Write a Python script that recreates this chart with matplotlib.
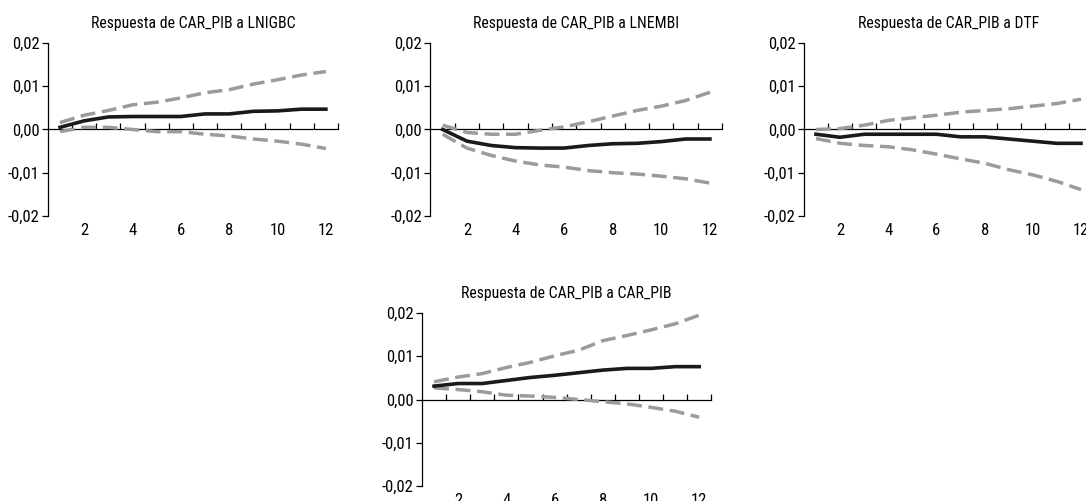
import matplotlib

matplotlib.use("Agg")
import matplotlib.pyplot as plt
import numpy as np
from matplotlib import font_manager
from matplotlib.ticker import FuncFormatter, FixedLocator

# fuente condensada si existe; si no, Liberation Sans
_installed = {f.name for f in font_manager.fontManager.ttflist}
_narrow = [n for n in ("Liberation Sans Narrow", "Roboto Condensed",
                       "Open Sans Condensed", "Liberation Sans") if n in _installed]
FONT = _narrow[0] if _narrow else "DejaVu Sans"
CONDENSED = FONT != "Liberation Sans"
plt.rcParams["font.family"] = [FONT, "DejaVu Sans"]

periods = np.arange(1, 13)

# respuestas al impulso (valor central y bandas)
titles = [
    "Respuesta de CAR_PIB a LNIGBC",
    "Respuesta de CAR_PIB a LNEMBI",
    "Respuesta de CAR_PIB a DTF",
    "Respuesta de CAR_PIB a CAR_PIB",
]
resp_lnigbc = [0.0005, 0.0020, 0.0029, 0.0030, 0.0030, 0.0030,
               0.0036, 0.0036, 0.0042, 0.0043, 0.0047, 0.0047]
upper_lnigbc = [0.0016, 0.0033, 0.0044, 0.0057, 0.0063, 0.0073,
                0.0085, 0.0092, 0.0105, 0.0115, 0.0126, 0.0134]
lower_lnigbc = [-0.0005, 0.0005, 0.0005, 0.0000, -0.0005, -0.0005,
                -0.0011, -0.0015, -0.0022, -0.0027, -0.0034, -0.0044]

resp_lnembi = [0.0000, -0.0027, -0.0037, -0.0042, -0.0043, -0.0043,
               -0.0037, -0.0033, -0.0032, -0.0028, -0.0022, -0.0022]
upper_lnembi = [0.0010, -0.0007, -0.0011, -0.0011, -0.0002, 0.0006,
                0.0018, 0.0031, 0.0044, 0.0054, 0.0067, 0.0086]
lower_lnembi = [-0.0011, -0.0043, -0.0060, -0.0073, -0.0082, -0.0087,
                -0.0095, -0.0100, -0.0103, -0.0108, -0.0114, -0.0124]

resp_dtf = [-0.0011, -0.0018, -0.0011, -0.0011, -0.0011, -0.0011,
            -0.0017, -0.0017, -0.0022, -0.0027, -0.0032, -0.0032]
upper_dtf = [0.0000, 0.0002, 0.0010, 0.0021, 0.0027, 0.0033,
             0.0040, 0.0044, 0.0048, 0.0054, 0.0060, 0.0070]
lower_dtf = [-0.0021, -0.0032, -0.0037, -0.0040, -0.0047, -0.0057,
             -0.0068, -0.0078, -0.0093, -0.0105, -0.0120, -0.0139]

resp_carpib = [0.0031, 0.0037, 0.0037, 0.0044, 0.0051, 0.0056,
               0.0062, 0.0068, 0.0072, 0.0072, 0.0076, 0.0076]
upper_carpib = [0.0041, 0.0052, 0.0060, 0.0074, 0.0086, 0.0101,
                0.0114, 0.0136, 0.0148, 0.0161, 0.0175, 0.0195]
lower_carpib = [0.0027, 0.0023, 0.0018, 0.0010, 0.0008, 0.0005,
                0.0000, -0.0005, -0.0010, -0.0018, -0.0027, -0.0041]

series = [
    (resp_lnigbc, upper_lnigbc, lower_lnigbc),
    (resp_lnembi, upper_lnembi, lower_lnembi),
    (resp_dtf, upper_dtf, lower_dtf),
    (resp_carpib, upper_carpib, lower_carpib),
]

y_ticks = [-0.02, -0.01, 0.0, 0.01, 0.02]
x_labels = [2, 4, 6, 8, 10, 12]

# posiciones de los paneles en fracción de figura
rects = [
    (0.0442, 0.5689, 0.2670, 0.3453),
    (0.3964, 0.5689, 0.2685, 0.3453),
    (0.7403, 0.5689, 0.2662, 0.3453),
    (0.3886, 0.0299, 0.2663, 0.3453),
]

title_size = 11.3 if CONDENSED else 9.2
tick_size = 12 if CONDENSED else 9.8

fig = plt.figure(figsize=(10.86, 5.01), dpi=100)
comma = FuncFormatter(lambda v, _: f"{v:.2f}".replace(".", ","))

for title, (mid, up, lo), rect in zip(titles, series, rects):
    ax = fig.add_axes(rect)
    band = dict(color="#9b9b9b", lw=2.5, dashes=(4.3, 1.9),
                dash_capstyle="butt")
    ax.plot(periods, up, **band)
    ax.plot(periods, lo, **band)
    ax.plot(periods, mid, color="#1a1a1a", lw=2.6)
    ax.set_xlim(0.5, 12.5)
    ax.set_ylim(-0.02, 0.02)
    for s in ("top", "right"):
        ax.spines[s].set_visible(False)
    ax.spines["left"].set_linewidth(0.9)
    ax.spines["bottom"].set_position(("data", 0))
    ax.spines["bottom"].set_linewidth(0.9)
    ax.spines["bottom"].set_zorder(0.5)
    ax.xaxis.set_major_locator(FixedLocator(np.arange(1.5, 13, 1.0)))
    ax.tick_params(axis="x", direction="in", length=4, width=0.9,
                   labelbottom=False)
    ax.set_yticks(y_ticks)
    ax.yaxis.set_major_formatter(comma)
    ax.tick_params(axis="y", direction="out", length=4, width=0.9,
                   labelsize=tick_size, pad=2)
    sec = ax.secondary_xaxis(0.0)
    sec.spines["bottom"].set_visible(False)
    sec.set_xticks(x_labels)
    sec.tick_params(length=0, labelsize=tick_size, pad=5)
    ax.set_title(title, fontsize=title_size, pad=11)

fig.savefig("out.png", dpi=100, facecolor="white")
